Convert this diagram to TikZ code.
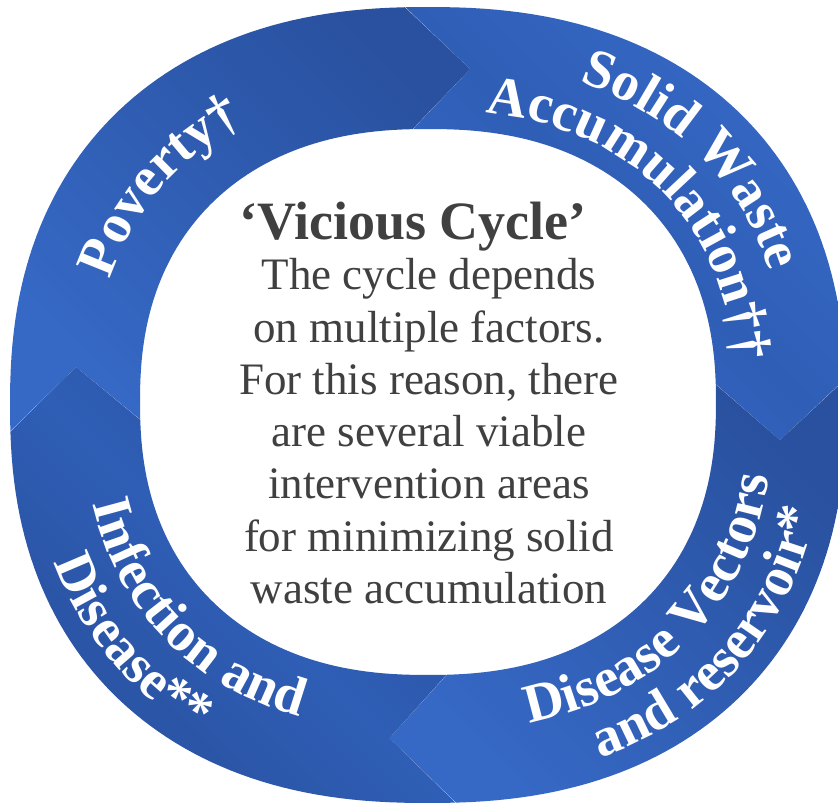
\documentclass[tikz,border=0pt]{standalone}
\usepackage{fontspec}
\setmainfont{Liberation Serif}
\usetikzlibrary{decorations.text}
\definecolor{ringlight}{HTML}{3669C6}
\definecolor{ringmid}{HTML}{2F5EB6}
\definecolor{ringdark}{HTML}{29519F}
\definecolor{txtgray}{HTML}{404040}
\newcommand\ringfont{\fontsize{55}{60}\selectfont\bfseries}
% segment from parametric angle #1 (start, notch) to #2 (end, tip), style #3
\newcommand\ringsegment[3]{%
  \path[#3] plot[domain=0:1,samples=60,variable=\s]
      ({418*cxf((#1)+((#2)-(#1))*\s)},{398*syf((#1)+((#2)-(#1))*\s)})
    -- ({353*cxf((#2)-7)},{335.5*syf((#2)-7)+1.5})
    -- plot[domain=0:1,samples=60,variable=\s]
      ({288*cxf((#2)+((#1)-(#2))*\s)},{273*syf((#2)+((#1)-(#2))*\s)+3})
    -- ({353*cxf((#1)-7)},{335.5*syf((#1)-7)+1.5}) -- cycle;}
% curved text: #1 centre angle, #2 radial fraction, #3 direction, #4 text
\newcommand\ringtext[4]{%
  \path[decorate,decoration={text along path,text align=center,text color=white,
        text={|\ringfont|#4}}]
    plot[domain=-44:44,samples=90,variable=\s]
      ({(288+130*(#2))*cxf((#1)+(#3)*\s)},{(273+125*(#2))*syf((#1)+(#3)*\s)+3*(1-(#2))});}
\begin{document}
\begin{tikzpicture}[x=1pt,y=1pt,
  declare function={cxf(\t)=cos(\t)*pow(abs(cos(\t))+0.0001,-0.13);
                    syf(\t)=sin(\t)*pow(abs(sin(\t))+0.0001,-0.13);},
  heading/.style={font=\fontsize{54}{60}\selectfont\bfseries,text=txtgray,inner sep=0pt},
  bodytext/.style={font=\fontsize{45}{52}\selectfont,text=txtgray,inner sep=0pt}]
\useasboundingbox (-428,-403) rectangle (410,405);
\fill[white] (-428,-403) rectangle (410,405);
% ring segments
\ringsegment{182.5}{92}{shade,top color=ringdark,bottom color=ringlight,shading angle=-45}
\ringsegment{92}{2.5}{shade,left color=ringlight,right color=ringlight,middle color=ringmid,shading angle=-45}
\ringsegment{2.5}{-87.5}{shade,top color=ringdark,bottom color=ringlight,shading angle=-45}
\ringsegment{-87.5}{-177.5}{shade,left color=ringdark,right color=ringdark,middle color=ringmid,shading angle=-45}
% ring labels
\ringtext{139}{0.36}{-1}{Poverty†}
\ringtext{44}{0.556}{-1}{Solid Waste}
\ringtext{44}{0.156}{-1}{Accumulation††}
\ringtext{-43.5}{0.444}{1}{Disease Vectors}
\ringtext{-41.5}{0.844}{1}{and reservoir*}
\ringtext{-136.5}{0.444}{1}{Infection and}
\ringtext{-139}{0.844}{1}{Disease**}
% centre text
\node[heading,anchor=base] (title) at (-15,165) {‘Vicious Cycle’};
\node[bodytext,anchor=base] (l1) at (1,115) {The cycle depends};
\node[bodytext,anchor=base] (l2) at (1,62.8) {on multiple factors.};
\node[bodytext,anchor=base] (l3) at (1,10.6) {For this reason, there};
\node[bodytext,anchor=base] (l4) at (1,-41.6) {are several viable};
\node[bodytext,anchor=base] (l5) at (1,-93.8) {intervention areas};
\node[bodytext,anchor=base] (l6) at (1,-146) {for minimizing solid};
\node[bodytext,anchor=base] (l7) at (1,-198.2) {waste accumulation};
\end{tikzpicture}
\end{document}
